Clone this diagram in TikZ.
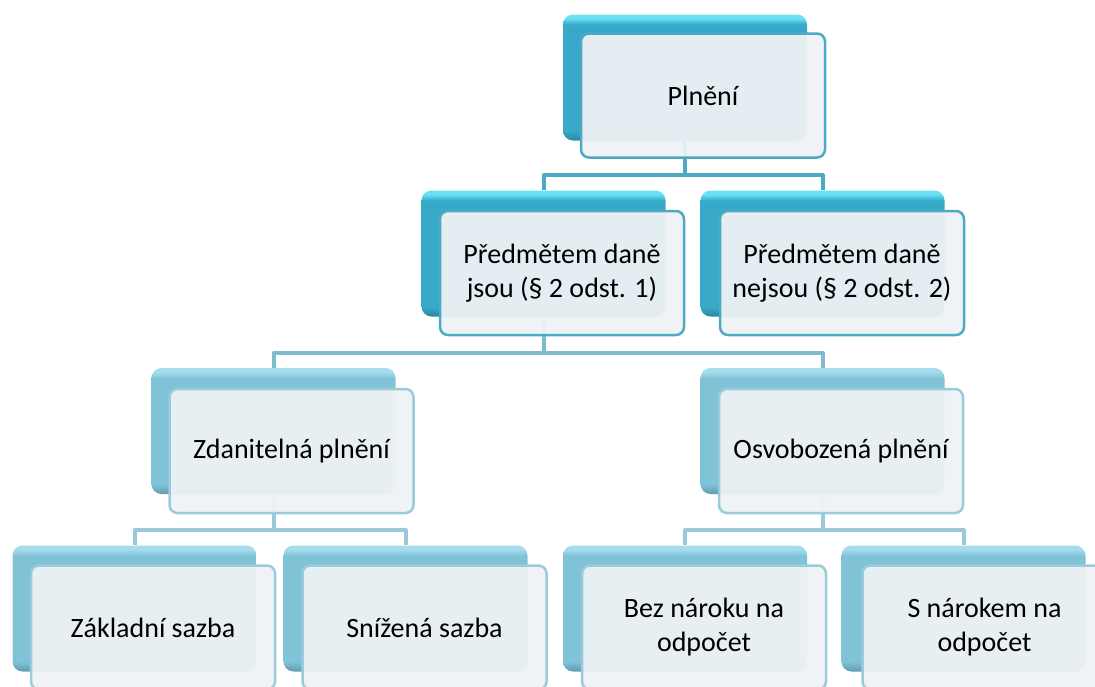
\documentclass[tikz,border=0pt]{standalone}
\usepackage{fontspec}
\setmainfont{Carlito}
\definecolor{bAtop}{HTML}{6AE2F6}
\definecolor{bAmid}{HTML}{38A9C9}
\definecolor{bAbot}{HTML}{2A86A2}
\definecolor{bBtop}{HTML}{A6DDEC}
\definecolor{bBmid}{HTML}{80C3D7}
\definecolor{bBbot}{HTML}{6399AE}
\definecolor{fillF}{HTML}{EFF2F4}
\definecolor{edgeA}{HTML}{4DAAC5}
\definecolor{edgeB}{HTML}{9ACBDB}
\definecolor{connA}{HTML}{4DAAC5}
\definecolor{connB}{HTML}{7FBBCF}
\definecolor{connC}{HTML}{9ACADA}
\pgfdeclareverticalshading{backshA}{100bp}{color(0bp)=(bAbot); color(25bp)=(bAbot); color(29bp)=(bAmid); color(71bp)=(bAmid); color(73.5bp)=(bAtop); color(75bp)=(bAtop); color(100bp)=(bAtop)}
\pgfdeclareverticalshading{backshB}{100bp}{color(0bp)=(bBbot); color(25bp)=(bBbot); color(29bp)=(bBmid); color(71bp)=(bBmid); color(73.5bp)=(bBtop); color(75bp)=(bBtop); color(100bp)=(bBtop)}
\tikzset{
  backbox/.style={rectangle, rounded corners=10pt, minimum width=244pt, minimum height=126pt, inner sep=0pt},
  backA/.style={backbox, shading=backshA},
  backB/.style={backbox, shading=backshB},
  frontbox/.style={rectangle, rounded corners=8pt, minimum width=244pt, minimum height=124pt, inner sep=0pt,
    fill=fillF, fill opacity=0.94, text opacity=1, line width=2.5pt, align=center,
    font=\fontsize{28}{34}\selectfont},
  frontA/.style={frontbox, draw=edgeA},
  frontB/.style={frontbox, draw=edgeB},
  conn/.style={line width=4pt, line join=round},
}
\begin{document}
\begin{tikzpicture}[x=1pt,y=-1pt]
\useasboundingbox (0,0) rectangle (1095,686);
% junction coordinates
\coordinate (j1) at (685,175);
\coordinate (j2) at (543.5,353);
\coordinate (j3) at (273.5,530);
\coordinate (j4) at (822.5,530);
% back boxes
\node[backA] (b1) at (685,77.5) {};
\node[backA] (b2a) at (543.5,253.5) {};
\node[backA] (b2b) at (822.5,253.5) {};
\node[backB] (b3a) at (273.5,431) {};
\node[backB] (b3b) at (822.5,431) {};
\node[backB] (b4a) at (134.5,608.5) {};
\node[backB] (b4b) at (405.5,608.5) {};
\node[backB] (b4c) at (685,608.5) {};
\node[backB] (b4d) at (963.5,608.5) {};
% connectors
\draw[conn, connA] (b1.south) -- (j1) -| (b2a.north);
\draw[conn, connA] (j1) -| (b2b.north);
\draw[conn, connB] (b2a.south) -- (j2) -| (b3a.north);
\draw[conn, connB] (j2) -| (b3b.north);
\draw[conn, connC] (b3a.south) -- (j3) -| (b4a.north);
\draw[conn, connC] (j3) -| (b4b.north);
\draw[conn, connC] (b3b.south) -- (j4) -| (b4c.north);
\draw[conn, connC] (j4) -| (b4d.north);
% front boxes
\node[frontA] (f1) at (703,95.5) {Plnění};
\node[frontA] (f2a) at (562,273) {Předmětem daně\\jsou (§ 2 odst. 1)};
\node[frontA] (f2b) at (842,273) {Předmětem daně\\nejsou (§ 2 odst. 2)};
\node[frontB] (f3a) at (291.5,451) {Zdanitelná plnění};
\node[frontB] (f3b) at (841,451) {Osvobozená plnění};
\node[frontB] (f4a) at (153,627.5) {Základní sazba};
\node[frontB] (f4b) at (424.5,627.5) {Snížená sazba};
\node[frontB] (f4c) at (704,627.5) {Bez nároku na\\odpočet};
\node[frontB] (f4d) at (984.5,627.5) {S nárokem na\\odpočet};
\end{tikzpicture}
\end{document}
